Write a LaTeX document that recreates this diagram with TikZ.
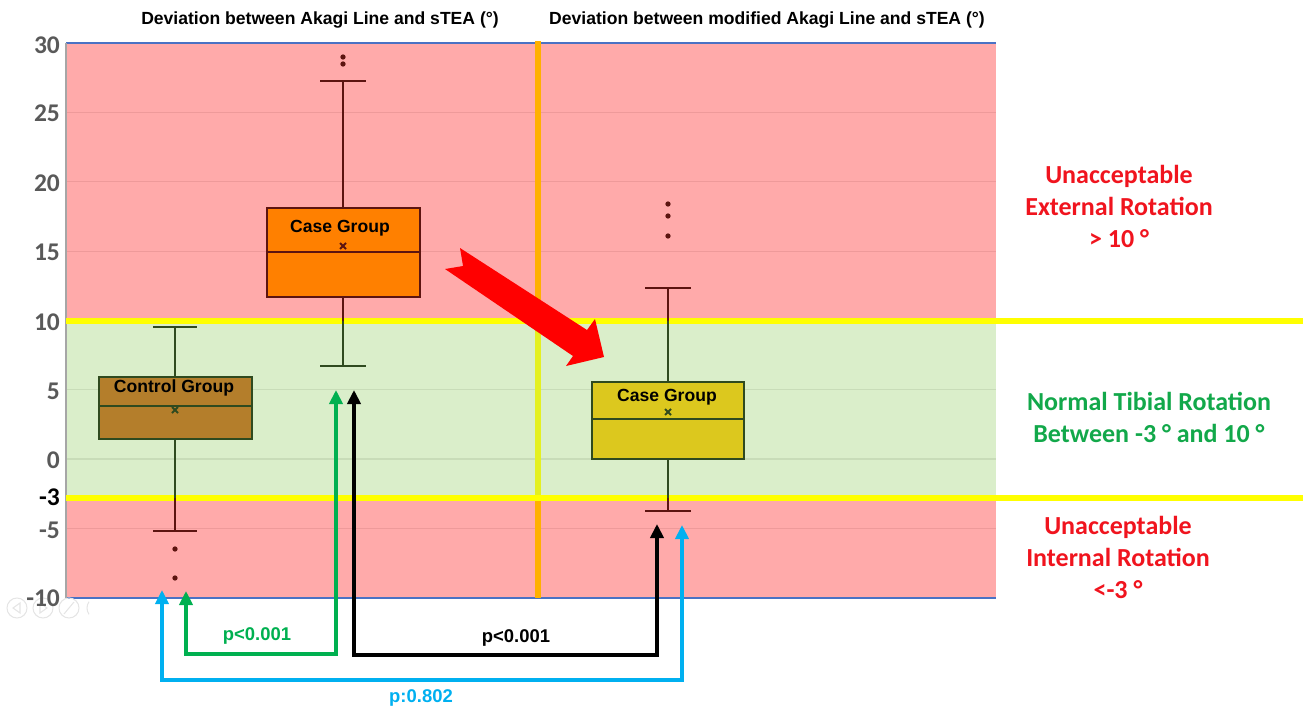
\documentclass[tikz,border=0pt]{standalone}
\usepackage{fontspec}
\setmainfont{Liberation Sans}
\newfontfamily\carlito{Carlito}
\usetikzlibrary{arrows.meta, calc, positioning}
\definecolor{zred}{HTML}{FFAAAA}
\definecolor{zgreen}{HTML}{DAEECA}
\definecolor{gridred}{HTML}{EE9A9A}
\definecolor{gridgreen}{HTML}{C8DCB8}
\definecolor{limyel}{HTML}{FFFF00}
\definecolor{sepor}{HTML}{FFB000}
\definecolor{sepyel}{HTML}{E4F020}
\definecolor{boxbrown}{HTML}{B47E2B}
\definecolor{boxorange}{HTML}{FF8000}
\definecolor{boxolive}{HTML}{DCC81E}
\definecolor{darkred}{HTML}{5C1410}
\definecolor{darkgrn}{HTML}{2F4A1F}
\definecolor{axgrey}{HTML}{595959}
\definecolor{txtred}{HTML}{F0141E}
\definecolor{txtgreen}{HTML}{12A84A}
\definecolor{pblue}{HTML}{00B0F0}
\definecolor{pgreen}{HTML}{00B050}
\definecolor{frameblue}{HTML}{4A72C4}
\tikzset{
  % bordo di una scatola del boxplot
  bxframe/.style={line width=1.3pt},
  % baffi e cappucci
  whisk/.style={line width=1.2pt},
  % punto anomalo
  outl/.style={circle, fill=darkred, inner sep=0pt, minimum size=3pt},
  % testi
  titlelbl/.style={font=\bfseries\fontsize{10}{12}\selectfont},
  boxlbl/.style={font=\bfseries\fontsize{10}{12}\selectfont},
  axlbl/.style={font=\carlito\bfseries\fontsize{14.5}{16}\selectfont, text=axgrey, anchor=east, inner sep=1pt},
  zonelbl/.style={font=\carlito\bfseries\fontsize{14.8}{18.2}\selectfont, align=center},
  pval/.style={font=\bfseries\fontsize{10.5}{12}\selectfont},
  % confronto statistico
  parr/.style={line width=2.3pt, line join=miter,
    {Triangle[length=8pt,width=7.5pt]}-{Triangle[length=8pt,width=7.5pt]}},
  % soglie
  limline/.style={limyel, line width=3.4pt},
  % icone della presentazione
  navicon/.style={black!10, line width=0.6pt},
  meanx/.pic={\draw[line width=1.1pt] (-3,-3) -- (3,3) (-3,3) -- (3,-3);},
}

\begin{document}
\begin{tikzpicture}[x=0.02cm, y=-0.02cm]
  \useasboundingbox (0,0) rectangle (1303,710);
  % zone
  \fill[zred] (66,43) rectangle (996,321);
  \fill[zgreen] (66,321) rectangle (996,498);
  \fill[zred] (66,498) rectangle (996,598);
  \foreach \py in {112.4,181.8,251.1,528.4} \draw[gridred, line width=0.6pt] (66,\py) -- (996,\py);
  \foreach \py in {389.6,459} \draw[gridgreen, line width=0.6pt] (66,\py) -- (996,\py);
  \draw[frameblue, line width=0.8pt] (66,43) -- (996,43) (66,598) -- (996,598);
  \draw[black!35, line width=0.6pt] (66,43) -- (66,598);
  % separatore
  \draw[sepor, line width=3.4pt] (538,41) -- (538,598);
  \draw[sepyel, line width=3.4pt] (538,321) -- (538,498);
  \draw[limline] (66,321) -- (1303,321);
  \draw[limline] (66,498) -- (1303,498);
  % icone
  \foreach \cx in {17,43,69} \draw[navicon] (\cx,608) circle (10);
  \draw[navicon] (13,608) -- (20,603) -- (20,613) -- cycle;
  \draw[navicon] (47,608) -- (40,603) -- (40,613) -- cycle;
  \draw[navicon] (64,614) -- (74,602);
  \draw[navicon] (98,608) ++(145:11) arc (145:215:11);
  % assi
  \foreach \v/\py in {30/45,25/113,20/183,15/252,10/322,5/391,0/460,-5/530,-10/598}
    \node[axlbl] (ax\v) at (62,\py) {\v};
  \node[axlbl, text=black] (ax-3) at (62,497) {-3};
  \node[titlelbl] (tit1) at (320,20) {Deviation between Akagi Line and sTEA (°)};
  \node[titlelbl] (tit2) at (767,20) {Deviation between modified Akagi Line and sTEA (°)};

  % Control Group
  \draw[whisk, darkgrn] (175,377) -- (175,327) (153,327) -- (197,327) (175,439) -- (175,498);
  \draw[whisk, darkred] (175,498) -- (175,531) (153,531) -- (197,531);
  \filldraw[bxframe, fill=boxbrown, draw=darkgrn] (99,377) rectangle (252,439);
  \draw[bxframe, darkgrn] (99,406) -- (252,406);
  \pic[darkgrn] at (175,410) {meanx};
  \node[boxlbl] (ctrl) at (174,388) {Control Group};
  \node[outl] (o1) at (175,549) {};
  \node[outl] (o2) at (175,578) {};

  % Case Group, Akagi
  \draw[whisk, darkred] (343,208) -- (343,81) (320,81) -- (366,81) (343,297) -- (343,321);
  \draw[whisk, darkgrn] (343,321) -- (343,366) (320,366) -- (366,366);
  \filldraw[bxframe, fill=boxorange, draw=darkred] (267,208) rectangle (420,297);
  \draw[bxframe, darkred] (267,252) -- (420,252);
  \pic[darkred] at (343,246) {meanx};
  \node[boxlbl] (case1) at (340,228) {Case Group};
  \node[outl] (o3) at (343,57) {};
  \node[outl] (o4) at (343,64) {};

  % Case Group, Akagi modificata
  \draw[whisk, darkred] (668,321) -- (668,288) (645,288) -- (691,288) (668,498) -- (668,511) (645,511) -- (691,511);
  \draw[whisk, darkgrn] (668,382) -- (668,321) (668,459) -- (668,498);
  \filldraw[bxframe, fill=boxolive, draw=darkgrn] (592,382) rectangle (744,459);
  \draw[bxframe, darkgrn] (592,419) -- (744,419);
  \pic[darkgrn] at (668,412) {meanx};
  \node[boxlbl] (case2) at (667,397) {Case Group};
  \foreach \py [count=\i from 5] in {204,216,236} \node[outl] (o\i) at (668,\py) {};

  % freccia rossa
  \fill[red] (460,248) -- (463,266) -- (445,269) -- (573,356) -- (566,366)
    -- (604,357) -- (595,319) -- (587,330) -- cycle;

  % zone cliniche
  \node[zonelbl, text=txtred] (ext) at (1119,206) {Unacceptable\\External Rotation\\> 10 °};
  \node[zonelbl, text=txtgreen] (norm) at (1149,417) {Normal Tibial Rotation\\Between -3 ° and 10 °};
  \node[zonelbl, text=txtred] (int) at (1118,557) {Unacceptable\\Internal Rotation\\<-3 °};

  % confronti
  \coordinate (gA) at (186,591); \coordinate (gL) at (186,654); \coordinate (gB) at (336,390);
  \coordinate (kA) at (354,390); \coordinate (kL) at (354,655); \coordinate (kB) at (657,524);
  \coordinate (bA) at (162,590); \coordinate (bL) at (162,680); \coordinate (bB) at (682,525);
  \draw[parr, pblue] (bA) -- (bL) -| (bB);
  \draw[parr, pgreen] (gA) -- (gL) -| (gB);
  \draw[parr, black] (kA) -- (kL) -| (kB);
  \node[pval, text=pgreen] (p1) at (257,636) {p<0.001};
  \node[pval] (p2) at (516,638) {p<0.001};
  \node[pval, text=pblue] (p3) at (421,698) {p:0.802};
\end{tikzpicture}
\end{document}
